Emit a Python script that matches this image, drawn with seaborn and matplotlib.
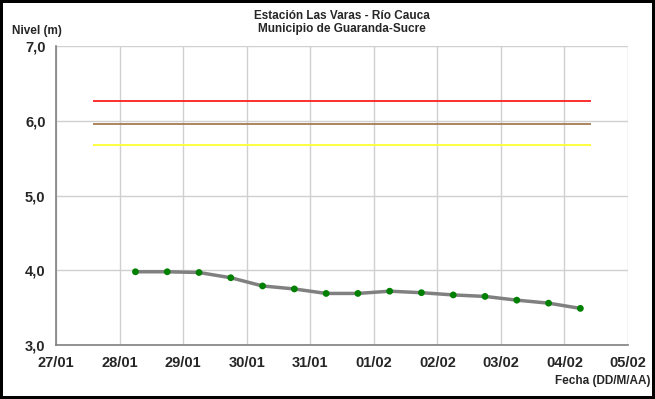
import numpy as np
import pandas as pd
import matplotlib
matplotlib.use("Agg")
import matplotlib.pyplot as plt
import matplotlib.dates as mdates
import seaborn as sns

# Water level readings (every 12 h)
fechas = pd.date_range("2011-01-28 06:00", periods=15, freq="12h")
nivel = [3.98, 3.98, 3.97, 3.90, 3.79, 3.75, 3.69, 3.69,
         3.72, 3.70, 3.67, 3.65, 3.60, 3.56, 3.49]

# Alert thresholds
umbral_valores = [6.27, 5.96, 5.67]
umbral_colores = ["#ff2020", "#a67c52", "#ffff33"]
umbral_inicio = pd.Timestamp("2011-01-27 14:00")
umbral_fin = pd.Timestamp("2011-02-04 10:00")

x_ticks = pd.date_range("2011-01-27", "2011-02-05", freq="D")

sns.set_style("white")
plt.rcParams["font.family"] = ["Liberation Sans", "DejaVu Sans"]

fig = plt.figure(figsize=(6.55, 3.99), dpi=100)
ax = fig.add_axes([0.0855, 0.1353, 0.8733, 0.7494])

df = pd.DataFrame({"fecha": fechas, "nivel": nivel})

for val, col in zip(umbral_valores, umbral_colores):
    ax.hlines(val, mdates.date2num(umbral_inicio), mdates.date2num(umbral_fin),
              color=col, lw=1.3, zorder=2)

sns.lineplot(data=df, x="fecha", y="nivel", ax=ax, color="#808080", lw=2.5,
             zorder=3)
sns.scatterplot(data=df, x="fecha", y="nivel", ax=ax, color="#008000", s=24,
                edgecolor="none", zorder=4)

ax.set_xlim(x_ticks[0], x_ticks[-1])
ax.set_ylim(3.0, 7.0)
ax.set_xticks(x_ticks)
ax.xaxis.set_major_formatter(mdates.DateFormatter("%d/%m"))
ax.set_yticks([3, 4, 5, 6, 7])
ax.set_yticklabels(["3,0", "4,0", "5,0", "6,0", "7,0"])
ax.grid(True, color="#d0d0d0", lw=1)
ax.set_axisbelow(True)
for s in ["top", "right"]:
    ax.spines[s].set_visible(False)
for s in ["left", "bottom"]:
    ax.spines[s].set_color("#808080")
    ax.spines[s].set_linewidth(1.2)
ax.tick_params(axis="both", direction="out", length=4, width=1, color="#808080",
               labelsize=10.5)
for lab in ax.get_xticklabels() + ax.get_yticklabels():
    lab.set_fontweight("bold")
ax.tick_params(axis="x", pad=4)
ax.set_xlabel("")
ax.set_ylabel("")

fig.text(0.522, 0.975, "Estación Las Varas - Río Cauca\nMunicipio de Guaranda-Sucre",
         ha="center", va="top", fontsize=8.5, fontweight="bold", linespacing=1.15)
fig.text(0.018, 0.922, "Nivel (m)", ha="left", va="center", fontsize=8.5,
         fontweight="bold")
fig.text(0.993, 0.045, "Fecha (DD/M/AA)", ha="right", va="center", fontsize=8.5,
         fontweight="bold")

fig.patch.set_edgecolor("black")
fig.patch.set_linewidth(3)
fig.savefig("out.png", dpi=100, edgecolor="black")
